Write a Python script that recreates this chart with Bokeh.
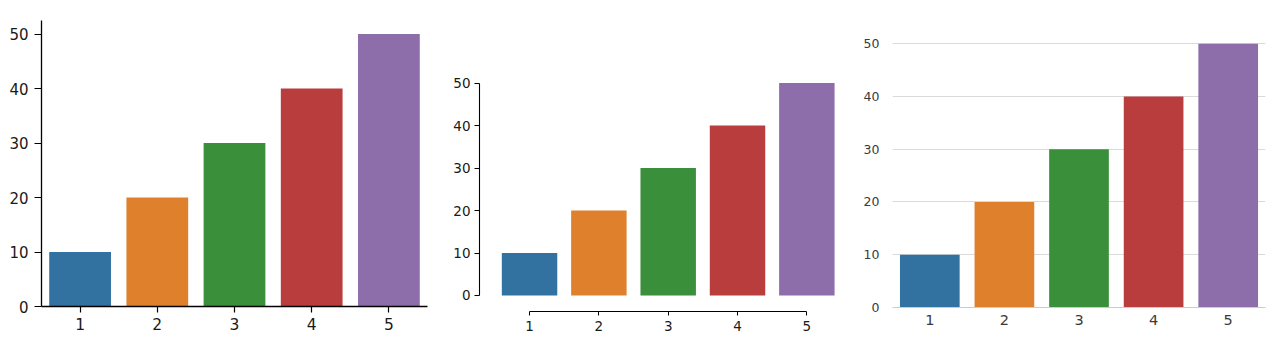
from bokeh.plotting import figure
from bokeh.layouts import row
from bokeh.models import Range1d, FixedTicker
from bokeh.embed import file_html
from bokeh.resources import INLINE

categories = ["1", "2", "3", "4", "5"]
values = [10, 20, 30, 40, 50]
colors = ["#3172A0", "#DF802D", "#3A903A", "#BA3D3E", "#8E6DAB"]
y_ticks = [0, 10, 20, 30, 40, 50]

xs = list(range(len(categories)))
label_map = {i: c for i, c in zip(xs, categories)}
FONT = "DejaVu Sans"


def base(width, x_range, y_range, left, right, top, bottom):
    p = figure(width=width, height=339, x_range=x_range, y_range=y_range,
               min_border_left=left, min_border_right=right,
               min_border_top=top, min_border_bottom=bottom,
               output_backend="svg", toolbar_location=None)
    p.frame_align = False
    p.vbar(x=xs, top=values, bottom=0, width=0.8, fill_color=colors, line_color=None)
    p.outline_line_color = None
    p.xaxis.ticker = FixedTicker(ticks=xs)
    p.xaxis.major_label_overrides = label_map
    p.yaxis.ticker = FixedTicker(ticks=y_ticks)
    for ax in (p.xaxis, p.yaxis):
        ax.minor_tick_line_color = None
        ax.major_tick_in = 0
        ax.major_label_text_font = FONT
    p.background_fill_color = "white"
    p.border_fill_color = "white"
    return p


# Panel 1: classic matplotlib with top/right spines removed
p1 = base(440, Range1d(-0.5, 4.5), Range1d(0, 52.5), 41, 13, 20, 33)
p1.grid.visible = False
for ax in (p1.xaxis, p1.yaxis):
    ax.axis_line_color = "black"
    ax.axis_line_width = 1.3
    ax.major_tick_line_color = "black"
    ax.major_tick_line_width = 1.2
    ax.major_tick_out = 7
    ax.major_label_text_font_size = "15px"
    ax.major_label_text_color = "#1a1a1a"
p1.xaxis.major_tick_out = 6
p1.xaxis.major_label_standoff = 5
p1.xaxis.major_label_text_font_size = "15.5px"
p1.yaxis.major_label_standoff = 6

# Panel 2: offset and trimmed spines
p2 = base(410, Range1d(-0.722, 4.5), Range1d(-3.77, 52.5), 39, 9, 72, 28)
p2.grid.visible = False
for ax in (p2.xaxis, p2.yaxis):
    ax.axis_line_color = "black"
    ax.axis_line_width = 1.1
    ax.major_tick_line_color = "black"
    ax.major_tick_out = 5
    ax.major_label_text_font_size = "13.5px"
    ax.major_label_text_color = "#1a1a1a"
p2.xaxis.bounds = (0, 4)
p2.yaxis.bounds = (0, 50)
p2.xaxis.major_tick_out = 4
p2.xaxis.major_label_standoff = 5
p2.yaxis.major_label_standoff = 4

# Panel 3: white grid style
p3 = base(430, Range1d(-0.5, 4.5), Range1d(0, 52.5), 42, 15, 30, 32)
p3.xgrid.visible = False
p3.ygrid.grid_line_color = "#dadada"
p3.ygrid.grid_line_width = 1
p3.ygrid.ticker = FixedTicker(ticks=y_ticks)
p3.yaxis.axis_line_color = None
p3.yaxis.major_tick_line_color = None
p3.xaxis.axis_line_color = "#cccccc"
p3.xaxis.major_tick_line_color = None
for ax in (p3.xaxis, p3.yaxis):
    ax.major_tick_out = 0
    ax.major_label_text_color = "#3a3a3a"
p3.xaxis.major_label_text_font_size = "14.5px"
p3.yaxis.major_label_text_font_size = "12.5px"
p3.xaxis.major_label_standoff = 7
p3.yaxis.major_label_standoff = 13

layout = row(p1, p2, p3)
open("out.html", "w").write(file_html(layout, INLINE))
